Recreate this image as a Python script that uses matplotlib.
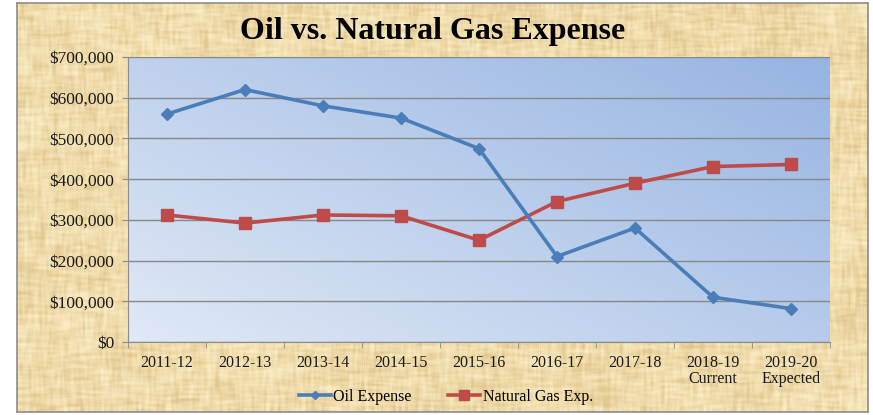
import numpy as np
import matplotlib
matplotlib.use("Agg")
import matplotlib.pyplot as plt
from matplotlib.lines import Line2D
from matplotlib.ticker import FuncFormatter, FixedLocator

### data
years = ['2011-12', '2012-13', '2013-14', '2014-15', '2015-16',
         '2016-17', '2017-18', '2018-19\nCurrent', '2019-20\nExpected']
oil_expense = [560000, 620000, 580000, 550000, 475000, 210000, 280000, 110000, 82000]
gas_expense = [312000, 292000, 312000, 310000, 250000, 345000, 390000, 431000, 436000]

W, H = 873, 415
serif = ['Liberation Serif', 'DejaVu Serif']
oil_color = '#4a7ebb'
gas_color = '#be4b48'


def smooth(a, k, axis):
    # box blur along one axis, reflecting at the edges
    kern = np.ones(k) / k
    pad = k // 2
    def f(v):
        vp = np.pad(v, (pad, k - 1 - pad), mode='reflect')
        return np.convolve(vp, kern, mode='valid')
    return np.apply_along_axis(f, axis, a)


## parchment texture for the chart area (soft woven fibres)
rng = np.random.default_rng(7)
th, tw = 409, 851
horiz = smooth(np.repeat(rng.normal(size=(th, tw // 10 + 1)), 10, axis=1)[:, :tw], 15, 1)
vert = smooth(np.repeat(rng.normal(size=(th // 10 + 1, tw)), 10, axis=0)[:th, :], 15, 0)
blotch = smooth(smooth(rng.normal(size=(th, tw)), 51, 0), 51, 1)
tex = 0.5 * horiz + 0.5 * vert + 5.0 * blotch
tex = smooth(smooth(tex, 3, 0), 3, 1)
tex = (tex - tex.mean()) / tex.std()
base = np.array([240, 220, 171]) / 255.0
light = np.array([249, 235, 196]) / 255.0
dark = np.array([226, 200, 145]) / 255.0
t = np.clip(tex, -2.5, 2.5)[..., None]
parchment = np.where(t > 0, base + (light - base) * t / 2.5, base + (base - dark) * t / 2.5)
parchment = np.clip(parchment, 0, 1)

fig = plt.figure(figsize=(W / 100, H / 100), dpi=100)
fig.patch.set_facecolor('white')

bg = fig.add_axes([17 / W, 1 - 412 / H, (868 - 17) / W, (412 - 3) / H])
bg.imshow(parchment, aspect='auto', interpolation='bilinear')
bg.set_xticks([])
bg.set_yticks([])
for s in bg.spines.values():
    s.set_color('#8c8c8c')
    s.set_linewidth(1.2)

## plot area
ax = fig.add_axes([128 / W, 1 - 342 / H, (830 - 128) / W, (342 - 57) / H])
ax.set_zorder(2)
ax.patch.set_alpha(0)

# diagonal blue gradient, light at bottom-left, darker at top-right
gx, gy = np.meshgrid(np.linspace(0, 1, 200), np.linspace(0, 1, 100))
g = ((gx * 0.75 + gy * 0.6) / 1.35)[..., None]
c0 = np.array([224, 233, 246]) / 255.0
c1 = np.array([150, 180, 226]) / 255.0
grad = c0 + (c1 - c0) * g
ax.imshow(grad, extent=[0, 1, 0, 1], transform=ax.transAxes, origin='lower',
          aspect='auto', zorder=0)

index = np.arange(len(years))
ax.plot(index, oil_expense, color=oil_color, lw=2.6, marker='D', ms=6.3,
        zorder=4, label='Oil Expense')
ax.plot(index, gas_expense, color=gas_color, lw=2.6, marker='s', ms=8.5,
        zorder=3, label='Natural Gas Exp.')

ax.set_xlim(-0.5, len(years) - 0.5)
ax.set_ylim(0, 700000)
ax.set_yticks(np.arange(0, 700001, 100000))
ax.yaxis.set_major_formatter(FuncFormatter(lambda v, p: '${:,.0f}'.format(v)))
ax.yaxis.grid(True, color='#878787', lw=1.0, zorder=1)
ax.set_axisbelow(False)

ax.set_xticks(index)
ax.set_xticklabels(years, linespacing=1.0)
ax.xaxis.set_minor_locator(FixedLocator(np.arange(-0.5, len(years), 1.0)))
ax.tick_params(axis='x', which='major', length=0, pad=9)
ax.tick_params(axis='x', which='minor', length=4, color='#8c8c8c', direction='out')
ax.tick_params(axis='y', length=4, color='#8c8c8c', pad=6)
for lab in ax.get_xticklabels():
    lab.set_family(serif)
    lab.set_fontsize(11.5)
    lab.set_color('#1a1a1a')
for lab in ax.get_yticklabels():
    lab.set_family(serif)
    lab.set_fontsize(12.5)
    lab.set_color('#1a1a1a')

for side in ['top', 'right']:
    ax.spines[side].set_visible(False)
ax.spines['left'].set_color('#8c8c8c')
ax.spines['bottom'].set_color('#8c8c8c')

fig.text(433 / W, 1 - 31 / H, 'Oil vs. Natural Gas Expense', ha='center', va='center',
         fontsize=23, fontweight='bold', family=serif, color='black')

handles = [Line2D([], [], color=oil_color, lw=2.6, marker='D', ms=3.8),
           Line2D([], [], color=gas_color, lw=2.6, marker='s', ms=6.5)]
fig.legend(handles, ['Oil Expense', 'Natural Gas Exp.'], loc='center',
           bbox_to_anchor=(446 / W, 1 - 397 / H), ncol=2, frameon=False,
           prop={'family': serif, 'size': 11.5}, handlelength=2.0,
           handletextpad=0.15, columnspacing=2.3)

plt.savefig('out.png', dpi=100)
